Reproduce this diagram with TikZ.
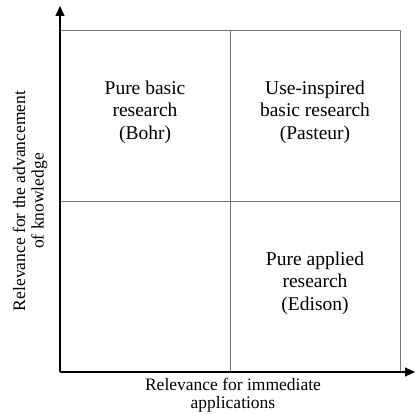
\documentclass[tikz,border=0pt]{standalone}
\usepackage{fontspec}
\setmainfont{Liberation Serif}
\usepackage{tikz}
\usetikzlibrary{arrows.meta, positioning, calc}

\begin{document}
\begin{tikzpicture}[
    x=1pt, y=1pt,
    quad/.style={align=center, font=\fontsize{19.5}{22.5}\selectfont},
    axislabel/.style={align=center, font=\fontsize{17.5}{18.5}\selectfont},
    gridline/.style={draw=black!55, line width=0.9pt},
    axis/.style={-{Triangle[length=10pt, width=9pt]}, line width=1.1pt}
]
    \useasboundingbox (0,0) rectangle (415,414);
    % quadrant grid
    \draw[gridline] (60,42) rectangle (400,384);
    \draw[gridline] (230,42) -- (230,384);
    \draw[gridline] (60,213) -- (400,213);
    % axes
    \coordinate (origin) at (60,42);
    \coordinate (ytip) at (60,408);
    \coordinate (xtip) at (415,42);
    \draw[axis] (origin) -- (ytip);
    \draw[axis] (origin) -- (xtip);
    % quadrants
    \node[quad] (bohr) at (145,302) {Pure basic\\research\\(Bohr)};
    \node[quad] (pasteur) at (315,302) {Use-inspired\\basic research\\(Pasteur)};
    \node[quad] (edison) at (315,131) {Pure applied\\research\\(Edison)};
    % axis labels
    \node[axislabel] (xlabel) at (233,19) {Relevance for immediate\\applications};
    \node[axislabel, rotate=90] (ylabel) at (30,213) {Relevance for the advancement\\of knowledge};
\end{tikzpicture}
\end{document}
